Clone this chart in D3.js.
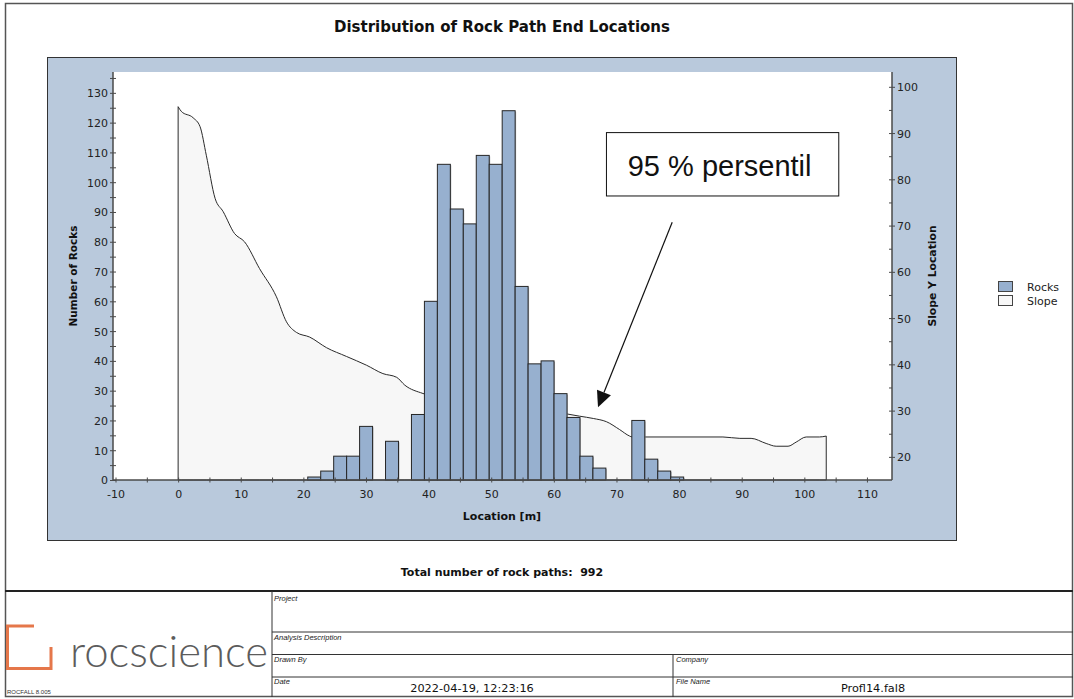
<!DOCTYPE html>
<html><head><meta charset="utf-8">
<script src="https://cdn.jsdelivr.net/npm/d3@7"></script>
<style>
html,body{margin:0;padding:0;background:#fff;}
svg{display:block;}
</style></head><body>
<svg id="c" width="1074" height="699"></svg>
<script>
// ---------- data ----------
const binWidth = 2.07;
const binStart = [20.70, 22.77, 24.84, 26.91, 28.98, 33.12, 37.26, 39.33, 41.40, 43.47, 45.54, 47.61, 49.68, 51.75, 53.82, 55.89, 57.96, 60.03, 62.10, 64.17, 66.24, 72.45, 74.52, 76.59, 78.66];
const rockCount = [1, 3, 8, 8, 18, 13, 22, 60, 106, 91, 86, 109, 106, 124, 65, 39, 40, 29, 21, 8, 4, 20, 7, 3, 1];

const slopeX = [0, 0.5, 2.4, 3.5, 4.5, 5.9, 7.2, 9.0, 10.6, 13.0, 15.7, 17.3, 18.9, 21.0, 23.7, 26.9, 30.1, 32.7, 34.9, 36.2, 39.1, 44.0, 50.0, 56.0, 62.0, 64.1, 66.3, 68.4, 70.5, 72.1, 72.5, 87.0, 89.7, 91.5, 93.9, 95.5, 97.4, 98.7, 100.3, 102.4, 103.5];
const slopeY = [95.7, 94.7, 93.3, 91.4, 85.2, 75.9, 73.0, 68.3, 66.5, 60.7, 54.6, 49.2, 46.9, 45.9, 43.6, 41.7, 39.8, 38.0, 37.2, 35.5, 33.7, 32.3, 31.0, 30.2, 29.3, 28.8, 28.3, 27.6, 25.9, 24.5, 24.3, 24.3, 24.0, 24.0, 22.9, 22.3, 22.3, 23.2, 24.3, 24.3, 24.5];

const xTicks = [-10, 0, 10, 20, 30, 40, 50, 60, 70, 80, 90, 100, 110];
const xMinor = [-5, 5, 15, 25, 35, 45, 55, 65, 75, 85, 95, 105];
const yLeftTicks = [0, 10, 20, 30, 40, 50, 60, 70, 80, 90, 100, 110, 120, 130];
const yLeftMinor = [5, 15, 25, 35, 45, 55, 65, 75, 85, 95, 105, 115, 125, 135];
const yRightTicks = [20, 30, 40, 50, 60, 70, 80, 90, 100];
const yRightMinor = [25, 35, 45, 55, 65, 75, 85, 95];

const legendLabels = ["Rocks", "Slope"];
const totalPaths = 992;

// annotation (in data coords: x location, right-axis y)
const annoText = "95 % persentil";
const annoBox = {x0: 68.4, x1: 105.5, y0: 90.1, y1: 76.4};
const annoArrow = {fromX: 78.9, fromY: 70.7, toX: 67.05, toY: 30.7};

// ---------- drawing ----------
const F = '"DejaVu Sans", Verdana, sans-serif';
const svg = d3.select('#c');

const x = d3.scaleLinear([-10.4, 114], [113, 892]);
const yL = d3.scaleLinear([0, 137], [480, 72]);
const yR = d3.scaleLinear([15, 103.2], [480, 72]);

// page frame
svg.append('rect').attr('x', 5.5).attr('y', 3.5).attr('width', 1067).attr('height', 693)
  .attr('fill', 'none').attr('stroke', '#555').attr('stroke-width', 1.5);

// title
svg.append('text').attr('x', 502).attr('y', 32).attr('text-anchor', 'middle')
  .attr('font-family', F).attr('font-weight', 'bold').attr('font-size', 15).attr('fill', '#111')
  .text('Distribution of Rock Path End Locations');

// panel
svg.append('rect').attr('x', 47.5).attr('y', 57.5).attr('width', 909).attr('height', 483)
  .attr('fill', '#B9C9DC').attr('stroke', '#333');
svg.append('rect').attr('x', 113).attr('y', 72).attr('width', 779).attr('height', 408).attr('fill', '#fff');

// slope area
const slopePts = slopeX.map((d, i) => [d, slopeY[i]]);
const area = d3.area().x(d => x(d[0])).y0(yR(15)).y1(d => yR(d[1])).curve(d3.curveMonotoneX);
svg.append('path').datum(slopePts).attr('d', area)
  .attr('fill', '#F7F7F7').attr('stroke', '#2a2a2a').attr('stroke-width', 1);

// bars
const bars = svg.append('g');
binStart.forEach((b, i) => {
  const x0 = x(b), x1 = x(b + binWidth);
  bars.append('rect').attr('x', x0 + 1).attr('y', yL(rockCount[i]) + 1)
    .attr('width', x1 - x0).attr('height', yL(0) - yL(rockCount[i]) - 1)
    .attr('fill', '#8a8f96').attr('opacity', 0.6);
  bars.append('rect').attr('x', x0).attr('y', yL(rockCount[i]))
    .attr('width', x1 - x0).attr('height', yL(0) - yL(rockCount[i]))
    .attr('fill', '#97B0CF').attr('stroke', '#262626').attr('stroke-width', 1);
});

// axes
const axCol = '#4a4a4a';
function styleTicks(g, orient) {
  g.select('.domain').remove();
  if (orient === 'b') g.selectAll('.tick line').attr('y1', -2.5).attr('y2', 2.5).attr('stroke', axCol);
  else g.selectAll('.tick line').attr('x1', -3).attr('x2', 3).attr('stroke', axCol);
}
const gx = svg.append('g').attr('transform', 'translate(0,480)')
  .call(d3.axisBottom(x).tickValues(xTicks).tickFormat(d => String(d)).tickSize(0));
styleTicks(gx, 'b');
gx.selectAll('.tick text').attr('y', 18).attr('dy', '0').attr('font-family', F).attr('font-size', 11).attr('fill', '#222');
const gxm = svg.append('g').attr('transform', 'translate(0,480)')
  .call(d3.axisBottom(x).tickValues(xMinor).tickFormat('').tickSize(0));
styleTicks(gxm, 'b');

const gl = svg.append('g').attr('transform', 'translate(113,0)')
  .call(d3.axisLeft(yL).tickValues(yLeftTicks).tickFormat(d => String(d)).tickSize(0));
styleTicks(gl, 'l');
gl.selectAll('.tick text').attr('x', -5).attr('dy', '0.36em').attr('font-family', F).attr('font-size', 11).attr('fill', '#222');
const glm = svg.append('g').attr('transform', 'translate(113,0)')
  .call(d3.axisLeft(yL).tickValues(yLeftMinor).tickFormat('').tickSize(0));
styleTicks(glm, 'l');

const gr = svg.append('g').attr('transform', 'translate(892,0)')
  .call(d3.axisRight(yR).tickValues(yRightTicks).tickFormat(d => String(d)).tickSize(0));
styleTicks(gr, 'r');
gr.selectAll('.tick text').attr('x', 5).attr('dy', '0.36em').attr('font-family', F).attr('font-size', 11).attr('fill', '#222');
const grm = svg.append('g').attr('transform', 'translate(892,0)')
  .call(d3.axisRight(yR).tickValues(yRightMinor).tickFormat('').tickSize(0));
grm.select('.domain').remove();
grm.selectAll('.tick line').attr('x1', -3).attr('x2', 0).attr('stroke', axCol);

// axis lines
svg.append('line').attr('x1', 113).attr('x2', 892).attr('y1', 480).attr('y2', 480).attr('stroke', axCol).attr('stroke-width', 1.5);
svg.append('line').attr('x1', 113).attr('x2', 113).attr('y1', 72).attr('y2', 480).attr('stroke', axCol).attr('stroke-width', 1.5);
svg.append('line').attr('x1', 892).attr('x2', 892).attr('y1', 72).attr('y2', 480).attr('stroke', axCol).attr('stroke-width', 1.5);

// axis titles
svg.append('text').attr('transform', 'translate(77,276) rotate(-90)').attr('text-anchor', 'middle')
  .attr('font-family', F).attr('font-weight', 'bold').attr('font-size', 10.5).attr('fill', '#111').text('Number of Rocks');
svg.append('text').attr('transform', 'translate(936,276) rotate(-90)').attr('text-anchor', 'middle')
  .attr('font-family', F).attr('font-weight', 'bold').attr('font-size', 10.8).attr('fill', '#111').text('Slope Y Location');
svg.append('text').attr('x', 502).attr('y', 520).attr('text-anchor', 'middle')
  .attr('font-family', F).attr('font-weight', 'bold').attr('font-size', 11).attr('fill', '#111').text('Location [m]');

// legend
const legFill = ['#97B0CF', '#F7F7F7'];
legendLabels.forEach((l, i) => {
  svg.append('rect').attr('x', 998.5).attr('y', 281.5 + i * 14).attr('width', 14).attr('height', 10)
    .attr('fill', legFill[i]).attr('stroke', '#444');
  svg.append('text').attr('x', 1027).attr('y', 291 + i * 14).attr('font-family', F).attr('font-size', 11)
    .attr('fill', '#222').text(l);
});

// total
svg.append('text').attr('x', 502).attr('y', 576).attr('text-anchor', 'middle').style('white-space', 'pre')
  .attr('font-family', F).attr('font-weight', 'bold').attr('font-size', 11).attr('fill', '#111')
  .text('Total number of rock paths:  ' + totalPaths);

// annotation
svg.append('rect').attr('x', x(annoBox.x0)).attr('y', yR(annoBox.y0))
  .attr('width', x(annoBox.x1) - x(annoBox.x0)).attr('height', yR(annoBox.y1) - yR(annoBox.y0))
  .attr('fill', '#fff').attr('stroke', '#111').attr('stroke-width', 1);
svg.append('text').attr('x', (x(annoBox.x0) + x(annoBox.x1)) / 2 - 3).attr('y', yR(annoBox.y0) + 43)
  .attr('text-anchor', 'middle').attr('font-family', '"Liberation Sans", Arial, sans-serif')
  .attr('font-size', 29).attr('fill', '#111').text(annoText);
{
  const ax0 = x(annoArrow.fromX), ay0 = yR(annoArrow.fromY), ax1 = x(annoArrow.toX), ay1 = yR(annoArrow.toY);
  const dx = ax1 - ax0, dy = ay1 - ay0, len = Math.hypot(dx, dy), ux = dx / len, uy = dy / len;
  const hl = 16, hw = 7.5;
  const bx = ax1 - ux * hl, by = ay1 - uy * hl;
  svg.append('line').attr('x1', ax0).attr('y1', ay0).attr('x2', bx).attr('y2', by).attr('stroke', '#111').attr('stroke-width', 1.2);
  svg.append('path').attr('d', `M${ax1},${ay1}L${bx - uy * hw},${by + ux * hw}L${bx + uy * hw},${by - ux * hw}Z`).attr('fill', '#111');
}

// footer
const ft = svg.append('g');
ft.append('line').attr('x1', 5).attr('x2', 1073).attr('y1', 591).attr('y2', 591).attr('stroke', '#222').attr('stroke-width', 2);
ft.append('line').attr('x1', 272).attr('x2', 272).attr('y1', 591).attr('y2', 697).attr('stroke', '#333');
[632, 654.5, 677].forEach(yy => ft.append('line').attr('x1', 272).attr('x2', 1073).attr('y1', yy).attr('y2', yy).attr('stroke', '#333'));
ft.append('line').attr('x1', 673).attr('x2', 673).attr('y1', 654.5).attr('y2', 697).attr('stroke', '#333');
const SF = '"Liberation Sans", Arial, sans-serif';
[['Project', 274, 601], ['Analysis Description', 274, 640], ['Drawn By', 274, 662], ['Date', 274, 684], ['Company', 676, 662], ['File Name', 676, 684]]
  .forEach(([t, tx, ty]) => ft.append('text').attr('x', tx).attr('y', ty).attr('font-family', SF).attr('font-style', 'italic')
    .attr('font-size', 7.5).attr('fill', '#222').text(t));
ft.append('text').attr('x', 472).attr('y', 692).attr('text-anchor', 'middle').attr('font-family', F).attr('font-size', 11.3).attr('fill', '#111').text('2022-04-19, 12:23:16');
ft.append('text').attr('x', 873).attr('y', 692).attr('text-anchor', 'middle').attr('font-family', F).attr('font-size', 11.3).attr('fill', '#111').text('Profl14.fal8');
ft.append('text').attr('x', 7).attr('y', 694).attr('font-family', SF).attr('font-size', 6).attr('fill', '#333').text('ROCFALL 8.005');
ft.append('path').attr('d', 'M34,626 H7.5 V668.5 H51 V647').attr('fill', 'none').attr('stroke', '#E5774A').attr('stroke-width', 3);
ft.append('text').attr('x', 70).attr('y', 667).attr('font-family', 'Lato, "Open Sans", sans-serif').attr('font-weight', 300)
  .attr('font-size', 44).attr('fill', '#5c5c5c').attr('textLength', 198).attr('lengthAdjust', 'spacingAndGlyphs').text('rocscience');
</script>
</body></html>
